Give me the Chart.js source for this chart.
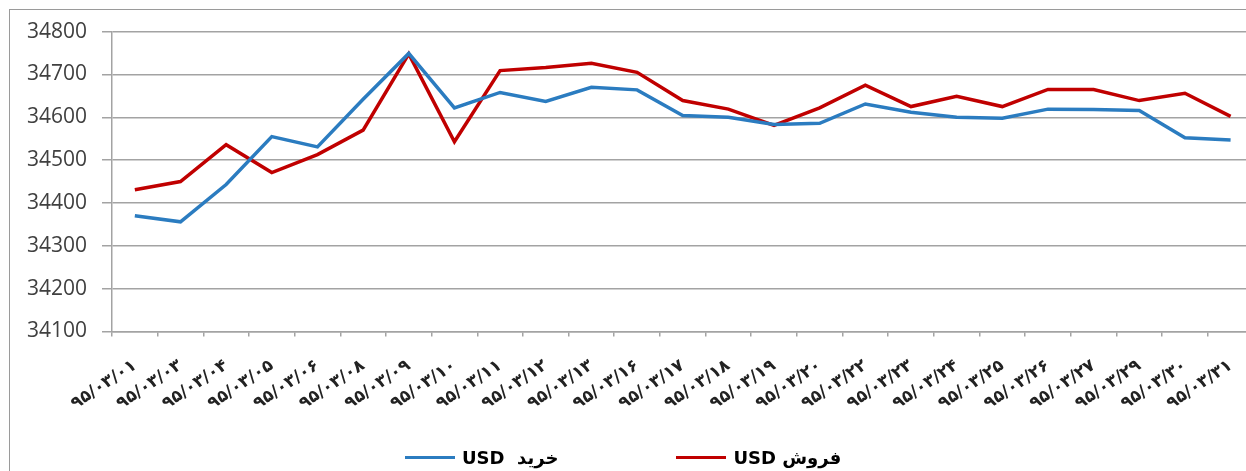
<!DOCTYPE html>
<html>
<head>
<meta charset="utf-8">
<script src="https://cdn.jsdelivr.net/npm/chart.js@4.4.1/dist/chart.umd.min.js"></script>
<style>
  html, body { margin: 0; padding: 0; background: #fff; overflow: hidden; }
  #box {
    position: absolute; left: 9px; top: 9px;
    width: 1260px; height: 480px;
    border: 1.5px solid #9a9a9a; background: #fff;
  }
  #wrap { position: absolute; left: 0; top: -6px; width: 1251px; height: 461px; }
  #legend {
    position: absolute; left: 395px; top: 437px;
    display: flex; gap: 118px; align-items: center;
    font-family: 'DejaVu Sans', sans-serif; font-weight: bold; font-size: 18px; color: #000;
  }
  .item { display: flex; align-items: center; direction: ltr; white-space: pre; }
  .swatch { display: inline-block; width: 50px; height: 3px; margin-right: 7px; }
</style>
</head>
<body>
<div id="box">
  <div id="wrap"><canvas id="chart"></canvas></div>
  <div id="legend"></div>
</div>
<script>
// داده‌ها
const dates = ['۹۵/۰۳/۰۱','۹۵/۰۳/۰۳','۹۵/۰۳/۰۴','۹۵/۰۳/۰۵','۹۵/۰۳/۰۶','۹۵/۰۳/۰۸','۹۵/۰۳/۰۹','۹۵/۰۳/۱۰',
  '۹۵/۰۳/۱۱','۹۵/۰۳/۱۲','۹۵/۰۳/۱۳','۹۵/۰۳/۱۶','۹۵/۰۳/۱۷','۹۵/۰۳/۱۸','۹۵/۰۳/۱۹','۹۵/۰۳/۲۰',
  '۹۵/۰۳/۲۲','۹۵/۰۳/۲۳','۹۵/۰۳/۲۴','۹۵/۰۳/۲۵','۹۵/۰۳/۲۶','۹۵/۰۳/۲۷','۹۵/۰۳/۲۹','۹۵/۰۳/۳۰','۹۵/۰۳/۳۱'];

const buyUSD = [34370, 34356, 34443, 34555, 34531, 34642, 34749, 34622, 34658, 34637, 34670, 34664,
  34604, 34600, 34583, 34586, 34631, 34612, 34600, 34598, 34619, 34618, 34616, 34552, 34547];

const sellUSD = [34431, 34450, 34536, 34471, 34513, 34570, 34748, 34543, 34709, 34716, 34726, 34705,
  34639, 34619, 34581, 34622, 34675, 34625, 34649, 34625, 34665, 34665, 34639, 34656, 34602];

const yMin = 34100, yMax = 34800, yStep = 100;

const seriesNames = ['USD  خرید', 'USD فروش'];
const seriesColors = ['#2b7cc0', '#c00000'];

const gridColor = '#a3a3a3';

const ctx = document.getElementById('chart').getContext('2d');

const chart = new Chart(ctx, {
  type: 'line',
  data: {
    labels: dates,
    datasets: [
      { label: seriesNames[0], data: buyUSD, borderColor: seriesColors[0], borderWidth: 3.5,
        pointRadius: 0, tension: 0, fill: false },
      { label: seriesNames[1], data: sellUSD, borderColor: seriesColors[1], borderWidth: 3.5,
        pointRadius: 0, tension: 0, fill: false }
    ]
  },
  options: {
    responsive: true,
    maintainAspectRatio: false,
    animation: false,
    layout: { padding: { top: 15, right: 0, bottom: 53.5, left: 0 } },
    plugins: {
      legend: { display: false },
      tooltip: { enabled: false }
    },
    scales: {
      x: {
        offset: true,
        grid: { offset: true, drawOnChartArea: false, tickLength: 5, color: gridColor, lineWidth: 1.5 },
        border: { color: gridColor, width: 1.5 },
        ticks: {
          autoSkip: false, minRotation: 34, maxRotation: 34, padding: 19,
          color: '#222', font: { family: 'DejaVu Sans', size: 17, weight: 'bold' }
        },
        afterFit: (scale) => { scale.height = 80; }
      },
      y: {
        min: yMin, max: yMax,
        grid: { tickLength: 10, color: gridColor, lineWidth: 1.5 },
        border: { color: gridColor, width: 1.5 },
        ticks: {
          stepSize: yStep, padding: 15, color: '#404040',
          font: { family: 'Open Sans', size: 21 },
          callback: (v) => String(v)
        },
        afterFit: (scale) => { scale.width = 102; }
      }
    }
  }
});

// راهنما
const legend = document.getElementById('legend');
legend.innerHTML = chart.data.datasets.map(ds => `
  <div class="item"><span class="swatch" style="background:${ds.borderColor}"></span><span>${ds.label}</span></div>`).join('');
</script>
</body>
</html>
